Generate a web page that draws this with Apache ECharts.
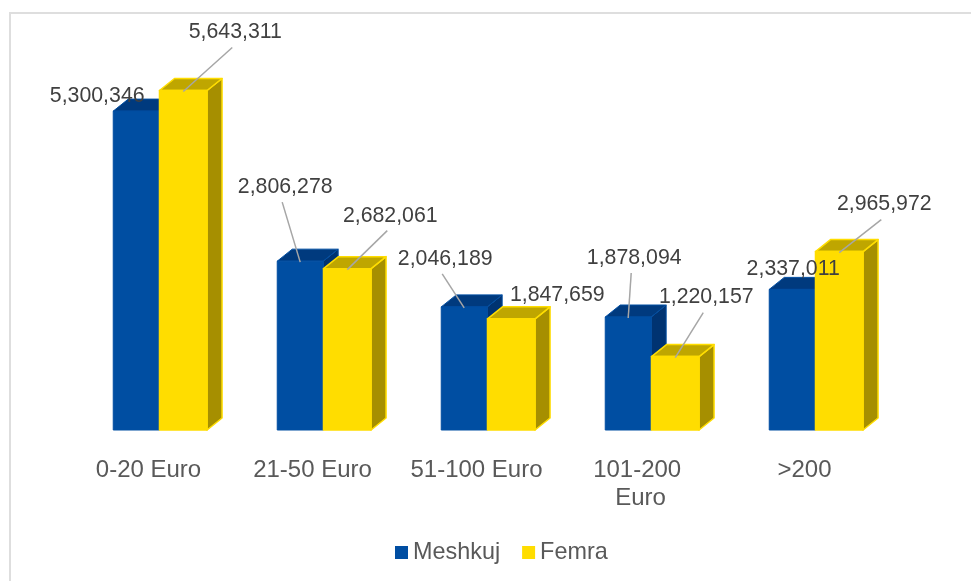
<!DOCTYPE html>
<html><head><meta charset="utf-8">
<style>html,body{margin:0;padding:0;background:#fff}#c{width:971px;height:581px}</style>
<script src="https://cdn.jsdelivr.net/npm/echarts@6/dist/echarts.min.js"></script>
</head><body><div id="c"></div>
<script>
const categories = ['0-20 Euro','21-50 Euro','51-100 Euro','101-200 Euro','>200'];
const meshkuj = [5300346,2806278,2046189,1878094,2337011];
const femra = [5643311,2682061,1847659,1220157,2965972];
// label placement relative to the top-front centre of each bar (px), and whether a leader line shows
const meshkujLabelOffset = [[-39,-15,0],[-15,-74,1],[-19,-48,1],[6,-59,1],[1,-20,0]];
const femraLabelOffset = [[52,-58,1],[43,-53,1],[46,-24,0],[31,-59,1],[45,-47,1]];

const fmt = v => v.toLocaleString('en-US');
const DEPTH_X = 15, DEPTH_Y = -12;

function barSeries(name, values, offsets, cfg){
  return {
    name, type:'custom', coordinateSystem:'cartesian2d',
    encode:{x:0,y:1},
    data: values.map((v,i)=>[i,v]),
    itemStyle:{color:cfg.front},
    renderItem(params, api){
      const i = api.value(0), v = api.value(1);
      const band = api.size([1,0])[0];
      const top = api.coord([i,v]), base = api.coord([i,0]);
      const x0 = top[0] + band*cfg.start, w = band*cfg.width;
      const x1 = x0 + w, yT = top[1], yB = base[1];
      const st = {stroke:cfg.edge, lineWidth:cfg.lw, lineJoin:'round'};
      const poly = (points, fill) => ({type:'polygon', shape:{points}, style:Object.assign({fill},st)});
      const mid = x0 + w/2;
      const off = offsets[i];
      const children = [
        poly([[x1,yT],[x1+DEPTH_X,yT+DEPTH_Y],[x1+DEPTH_X,yB+DEPTH_Y],[x1,yB]], cfg.side),
        poly([[x0,yT],[x0+DEPTH_X,yT+DEPTH_Y],[x1+DEPTH_X,yT+DEPTH_Y],[x1,yT]], cfg.top),
        poly([[x0,yT],[x1,yT],[x1,yB],[x0,yB]], cfg.front)
      ];
      if(off[2]) children.push({type:'line', z2:50,
        shape:{x1:mid+off[0]-3,y1:yT+off[1]+15,x2:mid,y2:yT+1},
        style:{stroke:'#A6A6A6',lineWidth:1.5}});
      children.push({type:'text', z2:100, x:mid+off[0], y:yT+off[1],
        style:{text:fmt(v), fill:'#404040', font:'21.3px "Liberation Sans"', align:'center', verticalAlign:'middle'}});
      return {type:'group', children};
    }
  };
}

const chart = echarts.init(document.getElementById('c'));
chart.setOption({
  animation:false,
  graphic:[
    {type:'line', silent:true, shape:{x1:10,y1:13,x2:971,y2:13}, style:{stroke:'#DEDEDE',lineWidth:2}},
    {type:'line', silent:true, shape:{x1:10,y1:12,x2:10,y2:581}, style:{stroke:'#DEDEDE',lineWidth:2}}
  ],
  legend:{bottom:12,left:390,itemWidth:13,itemHeight:13,itemGap:22,
    icon:'rect',
    textStyle:{fontFamily:'Liberation Sans',fontSize:23.4,color:'#595959'},
    data:['Meshkuj','Femra']},
  grid:{left:66.5,width:820,top:69,height:361},
  xAxis:{type:'category',data:categories,
    axisLine:{show:false},axisTick:{show:false},
    axisLabel:{fontFamily:'Liberation Sans',fontSize:24,color:'#595959',margin:26,lineHeight:28,width:140,overflow:'break',interval:0}},
  yAxis:{type:'value',min:0,max:6000000,show:false,splitLine:{show:false}},
  series:[
    barSeries('Meshkuj',meshkuj,meshkujLabelOffset,{start:-0.215,width:0.28,front:'#004EA2',top:'#003A7E',side:'#003371',edge:'#004EA2',lw:1}),
    barSeries('Femra',femra,femraLabelOffset,{start:0.067,width:0.29,front:'#FFDD00',top:'#BFA600',side:'#A68F00',edge:'#FFDD00',lw:1.5})
  ]
});
</script></body></html>
